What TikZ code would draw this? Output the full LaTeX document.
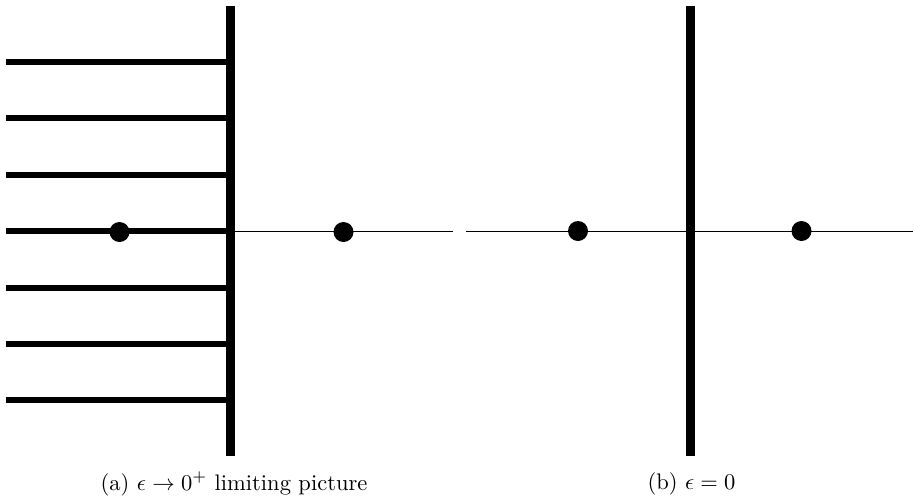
\documentclass[tikz,border=0pt]{standalone}
\begin{document}
\begin{tikzpicture}[x=1pt,y=-1pt,
  thickline/.style={line width=6pt},
  wall/.style={line width=9pt},
  axis/.style={line width=1pt},
  dotnode/.style={circle,fill=black,inner sep=0pt,minimum size=20pt},
  captext/.style={font=\fontsize{10}{12}\selectfont,inner sep=0pt,scale=2.25}]
\useasboundingbox (0,0) rectangle (914,499);
% panel (a)
\coordinate (wt) at (230.5,6);
\coordinate (wb) at (230.5,456);
\foreach \y [count=\i] in {62,118,175,231,288,344,400}{
  \coordinate (l\i) at (6,\y);
  \coordinate (r\i) at (230.5,\y);
  \draw[thickline] (l\i) -- (r\i);
}
\coordinate (aend) at (453,231);
\draw[axis] (r4) -- (aend);
\draw[wall] (wt) -- (wb);
\node[dotnode] (pa1) at (119.5,232) {};
\node[dotnode] (pa2) at (343.5,232) {};
% panel (b)
\coordinate (bs) at (466,231);
\coordinate (be) at (913,231);
\draw[axis] (bs) -- (be);
\coordinate (vt) at (690,6);
\coordinate (vb) at (690,456);
\draw[wall] (vt) -- (vb);
\node[dotnode] (pb1) at (578,231) {};
\node[dotnode] (pb2) at (801.5,231) {};
% captions
\node[captext] (ca) at (234,484) {(a) $\epsilon\to0^+$ limiting picture};
\node[captext] (cb) at (691.5,484) {(b) $\epsilon=0$};
\end{tikzpicture}
\end{document}
